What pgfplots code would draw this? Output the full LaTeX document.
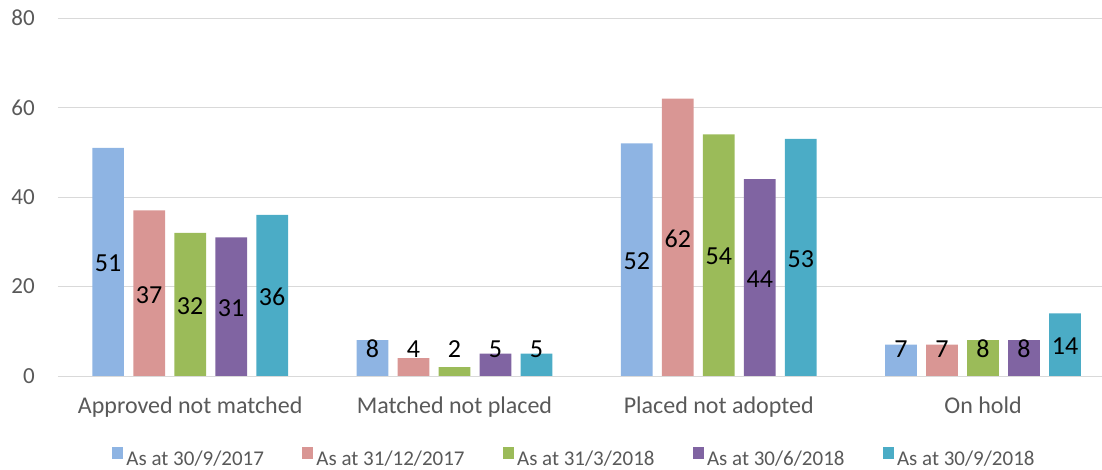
\documentclass[border=0pt]{standalone}
\usepackage{pgfplots}
\usepackage{pgfplotstable}
\pgfplotsset{compat=1.18}
\usepackage{fontspec}
\setmainfont{Carlito}
\definecolor{c1}{HTML}{8EB4E3}
\definecolor{c2}{HTML}{D99694}
\definecolor{c3}{HTML}{9BBB59}
\definecolor{c4}{HTML}{8064A2}
\definecolor{c5}{HTML}{4BACC6}
\definecolor{txt}{HTML}{595959}
\definecolor{gridc}{HTML}{D9D9D9}
\pgfplotstableread{
x s1 s2 s3 s4 s5
0 51 37 32 31 36
1 8 4 2 5 5
2 52 62 54 44 53
3 7 7 8 8 14
}\data
\pgfplotsset{sq/.style={legend image code/.code={\fill[##1] (0pt,0pt) rectangle (11.5pt,11.5pt);}}}
\begin{document}
\begin{tikzpicture}
\useasboundingbox (-58pt,-94pt) rectangle (1044pt,376pt);
\begin{axis}[
  at={(0pt,0pt)}, anchor=south west,
  scale only axis, width=1044pt, height=358pt,
  xmin=-0.5, xmax=3.45, ymin=0, ymax=80,
  ytick={0,20,40,60,80},
  xtick={0,1,2,3},
  xticklabels={Approved not matched, Matched not placed, Placed not adopted, On hold},
  axis line style={draw=none}, major tick length=0pt,
  ymajorgrids, grid style={draw=gridc, line width=0.9pt},
  /pgf/number format/assume math mode=true,
  yticklabel style={font=\fontsize{23}{27}\selectfont, text=txt, anchor=east, inner sep=0pt, xshift=-23pt},
  xticklabel style={font=\fontsize{24}{28}\selectfont, text=txt, anchor=base, inner sep=0pt, yshift=-38pt},
  ybar=9.3pt, bar width=31.7pt,
  nodes near coords,
  nodes near coords align={center},
  visualization depends on={rawy \as \rawy},
  every node near coord/.append style={font=\fontsize{26}{30}\selectfont, text=black, anchor=center,
     yshift={(max(\rawy/2-0.335,6.03)-\rawy)*4.475pt}},
  legend style={at={(0.495,-0.229)}, anchor=center, draw=none, fill=none,
     font=\fontsize{21}{25}\selectfont, text=txt,
     /tikz/every even column/.append style={column sep=35pt},
     nodes={inner xsep=3pt}},
  legend columns=5,
]
\addplot[fill=c1, draw=none, sq] table[x=x,y=s1]{\data};
\addplot[fill=c2, draw=none, sq] table[x=x,y=s2]{\data};
\addplot[fill=c3, draw=none, sq] table[x=x,y=s3]{\data};
\addplot[fill=c4, draw=none, sq] table[x=x,y=s4]{\data};
\addplot[fill=c5, draw=none, sq] table[x=x,y=s5]{\data};
\legend{As at 30/9/2017, As at 31/12/2017, As at 31/3/2018, As at 30/6/2018, As at 30/9/2018}
\end{axis}
\end{tikzpicture}
\end{document}
